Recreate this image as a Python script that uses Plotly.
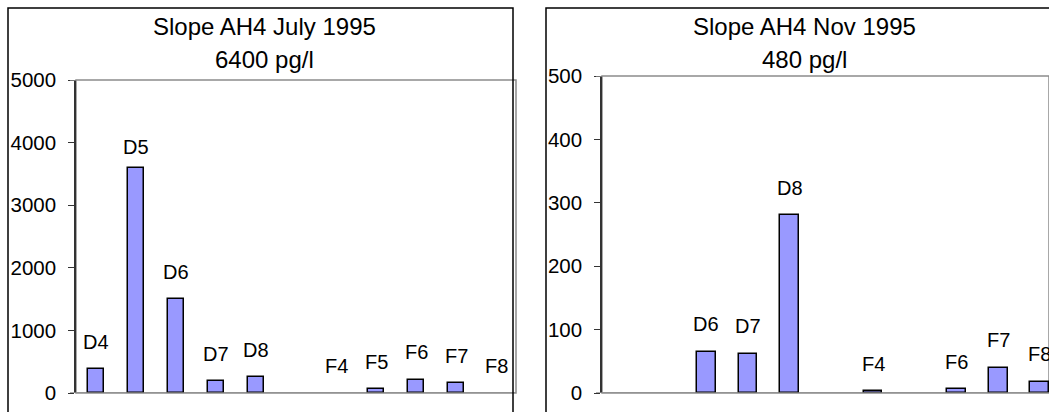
import plotly.graph_objects as go

# Sampling stations (the blank slot separates the D and F series)
stations = ["D4", "D5", "D6", "D7", "D8", " ", "F4", "F5", "F6", "F7", "F8"]

# Concentrations per station; None = not sampled
july_values = [380, 3600, 1500, 190, 250, None, 0, 60, 210, 155, 0]
nov_values = [None, None, 65, 62, 280, None, 3, None, 6, 40, 18]

july_title = ["Slope AH4 July 1995", "6400 pg/l"]
nov_title = ["Slope AH4 Nov 1995", "480 pg/l"]

W, H = 1049, 412
FONT = "Liberation Sans, Arial, sans-serif"
BAR_FILL = "#9999FF"


def px_x(p):
    return p / W


def px_y(p):
    return 1 - p / H


def outline_widths(values):
    # zero-height bars get no outline so nothing is drawn for them
    return [0 if (v is None or v == 0) else 1.5 for v in values]


fig = go.Figure()

fig.add_trace(go.Bar(
    x=stations, y=july_values, xaxis="x", yaxis="y",
    width=0.42,
    marker=dict(color=BAR_FILL, line=dict(color="black", width=outline_widths(july_values))),
    hoverinfo="x+y",
))
fig.add_trace(go.Bar(
    x=stations, y=nov_values, xaxis="x2", yaxis="y2",
    width=0.45,
    marker=dict(color=BAR_FILL, line=dict(color="black", width=outline_widths(nov_values))),
    hoverinfo="x+y",
))

axis_font = dict(family=FONT, size=20.5, color="black")

x_common = dict(
    type="category", categoryorder="array", categoryarray=stations,
    showticklabels=False, ticks="", showgrid=False, zeroline=False,
    showline=False, fixedrange=True, automargin=False,
)
y_common = dict(
    showgrid=False, zeroline=False, showline=True, linecolor="#333333",
    linewidth=1.5, ticks="outside", ticklen=6, tickwidth=1.2, tickcolor="#333333",
    tickfont=axis_font, ticklabelstandoff=8, fixedrange=True, automargin=False,
)

fig.update_layout(
    template="none",
    width=W, height=H, autosize=False,
    margin=dict(l=0, r=0, t=0, b=0, pad=0, autoexpand=False),
    paper_bgcolor="white", plot_bgcolor="white",
    showlegend=False, bargap=0,
    xaxis=dict(domain=[px_x(76), px_x(516)], range=[-0.5, 10.5], anchor="y", **x_common),
    yaxis=dict(domain=[px_y(393), px_y(80)], range=[0, 5000], dtick=1000,
               anchor="x", **y_common),
    xaxis2=dict(domain=[px_x(602), 1.0], range=[-0.5, 10.22], anchor="y2", **x_common),
    yaxis2=dict(domain=[px_y(393), px_y(76)], range=[0, 500], dtick=100,
                anchor="x2", **y_common),
)

shapes = []
# plot-area frames (grey)
for xr, yr in (("x domain", "y domain"), ("x2 domain", "y2 domain")):
    shapes.append(dict(type="rect", xref=xr, yref=yr, x0=0, x1=1, y0=0, y1=1,
                       line=dict(color="#8c8c8c", width=1.5), layer="below"))
# baseline extends to the tick marks
shapes.append(dict(type="line", xref="paper", yref="y", x0=px_x(70), x1=px_x(516),
                   y0=0, y1=0, line=dict(color="#8c8c8c", width=1.5)))
shapes.append(dict(type="line", xref="paper", yref="y2", x0=px_x(596), x1=1.0,
                   y0=0, y1=0, line=dict(color="#8c8c8c", width=1.5)))
shapes.append(dict(type="line", xref="paper", yref="y", x0=px_x(70), x1=px_x(76),
                   y0=5000, y1=5000, line=dict(color="#8c8c8c", width=1.5)))
shapes.append(dict(type="line", xref="paper", yref="y2", x0=px_x(596), x1=px_x(602),
                   y0=500, y1=500, line=dict(color="#8c8c8c", width=1.5)))
# chart outer borders
shapes.append(dict(type="rect", xref="paper", yref="paper",
                   x0=px_x(8), x1=px_x(513), y0=px_y(430), y1=px_y(8),
                   line=dict(color="black", width=1.5)))
shapes.append(dict(type="rect", xref="paper", yref="paper",
                   x0=px_x(546), x1=px_x(1070), y0=px_y(430), y1=px_y(8),
                   line=dict(color="black", width=1.5)))
fig.update_layout(shapes=shapes)

annotations = []
label_font = dict(family=FONT, size=20, color="black")
# label lift above the bar top, in pixels
label_lift = {("x", "D5"): 21}
for xref, yref, values in (("x", "y", july_values), ("x2", "y2", nov_values)):
    for name, v in zip(stations, values):
        if v is None:
            continue
        annotations.append(dict(
            x=name, y=v, xref=xref, yref=yref, text=name, showarrow=False,
            xanchor="center", yanchor="middle",
            yshift=label_lift.get((xref, name), 27.5), font=label_font,
        ))

title_font = dict(family=FONT, size=24, color="black")
for cx, lines in ((264.5, july_title), (804.5, nov_title)):
    for cy, line in zip((27, 59), lines):
        annotations.append(dict(
            x=px_x(cx), y=px_y(cy), xref="paper", yref="paper", text=line,
            showarrow=False, xanchor="center", yanchor="middle", font=title_font,
        ))
fig.update_layout(annotations=annotations)

fig.write_html("out.html")
